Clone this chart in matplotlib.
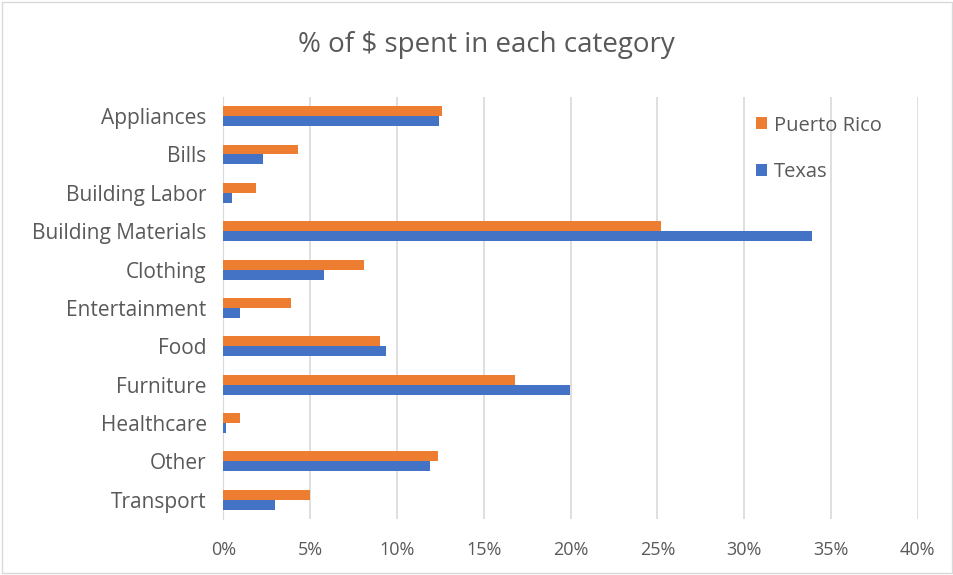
import matplotlib.pyplot as plt
import numpy as np

categories = ['Appliances', 'Bills', 'Building Labor', 'Building Materials',
              'Clothing', 'Entertainment', 'Food', 'Furniture',
              'Healthcare', 'Other', 'Transport']
puerto_rico = [12.6, 4.3, 1.9, 25.2, 8.1, 3.9, 9.0, 16.8, 0.95, 12.35, 5.0]
texas = [12.45, 2.3, 0.5, 33.9, 5.8, 0.95, 9.35, 19.95, 0.13, 11.9, 3.0]

orange = '#ED7D31'
blue = '#4472C4'
grey = '#595959'

plt.rcParams['font.family'] = ['Open Sans', 'DejaVu Sans']

fig = plt.figure(figsize=(9.54, 5.75), dpi=100)
ax = fig.add_axes([0.2341, 0.0974, 0.7279, 0.734])

y = np.arange(len(categories))
h = 0.26
ax.barh(y - h / 2, puerto_rico, height=h, color=orange, label='Puerto Rico', zorder=3)
ax.barh(y + h / 2, texas, height=h, color=blue, label='Texas', zorder=3)

ax.set_xlim(0, 40)
ax.set_ylim(len(categories) - 0.5, -0.5)
ax.set_xticks(range(0, 41, 5))
ax.set_xticklabels(['%d%%' % v for v in range(0, 41, 5)])
ax.set_yticks(y)
ax.set_yticklabels(categories)
ax.tick_params(axis='both', length=0, colors=grey)
ax.tick_params(axis='x', pad=16, labelsize=13)
ax.tick_params(axis='y', pad=12, labelsize=15)
ax.grid(axis='x', color='#D9D9D9', linewidth=1.2, zorder=0)
for side in ['top', 'right', 'bottom']:
    ax.spines[side].set_visible(False)
ax.spines['left'].set_color('#D9D9D9')

fig.text(0.51, 0.922, '% of $ spent in each category', ha='center', va='center',
         fontsize=20, color=grey)

ax.legend(loc='upper left', bbox_to_anchor=(0.755, 0.975), frameon=False,
          fontsize=14.5, labelcolor=grey, handlelength=0.55, handleheight=0.55,
          handletextpad=0.35, labelspacing=1.3, borderaxespad=0)

fig.patches.append(plt.Rectangle((0.002, 0.003), 0.996, 0.994, transform=fig.transFigure,
                                 fill=False, edgecolor='#D9D9D9', linewidth=1))

plt.savefig('out.png')
